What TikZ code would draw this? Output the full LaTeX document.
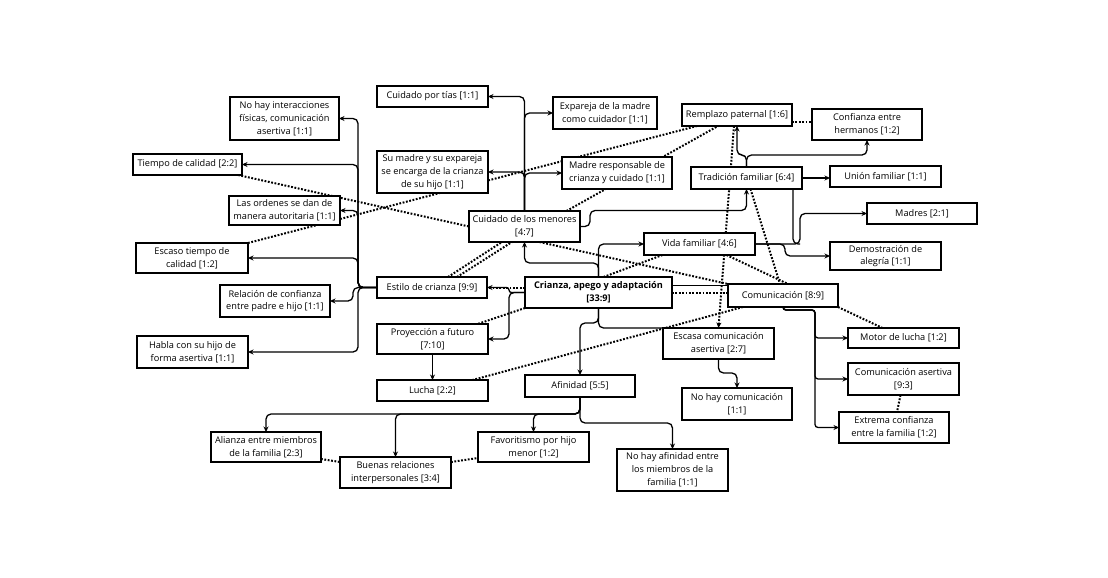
\documentclass[tikz,border=0pt]{standalone}
\usepackage{fontspec}
\newfontfamily\osans{Open Sans}
\usetikzlibrary{arrows.meta,backgrounds}
\tikzset{
  box/.style={draw, line width=1.3pt, fill=white, inner sep=0pt, outer sep=0pt,
    align=center, font=\osans\fontsize{9.2}{12.8}\selectfont},
  arr/.style={line width=1.3pt, rounded corners=5pt, -{Stealth[length=5.5pt,width=5pt]}},
  ln/.style={line width=1.3pt, rounded corners=5pt},
  dot/.style={line width=2pt, dash pattern=on 1.8pt off 1.6pt},
  dotarr/.style={dot, -{Stealth[length=5.5pt,width=5pt]}}
}
\begin{document}
\begin{tikzpicture}[x=1pt,y=-1pt]
\useasboundingbox (0,0) rectangle (1108,578);
% nodes
\node[box, minimum width=109, minimum height=43] (nohay) at (284.5,118.5) {No hay interacciones\\físicas, comunicación\\asertiva [1:1]};
\node[box, minimum width=109, minimum height=21] (tiempo) at (187.5,164.5) {Tiempo de calidad [2:2]};
\node[box, minimum width=111, minimum height=29] (ordenes) at (284.5,210.5) {Las ordenes se dan de\\manera autoritaria [1:1]};
\node[box, minimum width=112, minimum height=30] (escaso) at (192,258) {Escaso tiempo de\\calidad [1:2]};
\node[box, minimum width=110, minimum height=32] (relacion) at (275,301) {Relación de confianza\\entre padre e hijo [1:1]};
\node[box, minimum width=111, minimum height=32] (habla) at (192.5,352) {Habla con su hijo de\\forma asertiva [1:1]};
\node[box, minimum width=111, minimum height=21] (tias) at (432.5,96.5) {Cuidado por tías [1:1]};
\node[box, minimum width=111, minimum height=42] (sumadre) at (432.5,172) {Su madre y su expareja\\se encarga de la crianza\\de su hijo [1:1]};
\node[box, minimum width=111, minimum height=31] (cuidado) at (524.5,226.5) {Cuidado de los menores\\{}[4:7]};
\node[box, minimum width=110, minimum height=21] (estilo) at (432,287.5) {Estilo de crianza [9:9]};
\node[box, minimum width=111, minimum height=30] (proy) at (432.5,339) {Proyección a futuro\\{}[7:10]};
\node[box, minimum width=111, minimum height=21] (lucha) at (432.5,390.5) {Lucha [2:2]};
\node[box, minimum width=147, minimum height=31, font=\osans\bfseries\fontsize{9.2}{12.8}\selectfont] (crianza) at (598.5,292.5) {Crianza, apego y adaptación\\{}[33:9]};
\node[box, minimum width=104, minimum height=32] (expareja) at (605,113) {Expareja de la madre\\como cuidador [1:1]};
\node[box, minimum width=110, minimum height=32] (madre) at (617,173) {Madre responsable de\\crianza y cuidado [1:1]};
\node[box, minimum width=110, minimum height=22] (remplazo) at (737,115) {Remplazo paternal [1:6]};
\node[box, minimum width=110, minimum height=31] (confher) at (867,124.5) {Confianza entre\\hermanos [1:2]};
\node[box, minimum width=111, minimum height=22] (tradicion) at (746.5,178) {Tradición familiar [6:4]};
\node[box, minimum width=111, minimum height=21] (union) at (885.5,176.5) {Unión familiar [1:1]};
\node[box, minimum width=110, minimum height=21] (madres) at (922,213.5) {Madres [2:1]};
\node[box, minimum width=111, minimum height=22] (vida) at (699.5,244) {Vida familiar [4:6]};
\node[box, minimum width=111, minimum height=28] (demos) at (885.5,256) {Demostración de\\alegría [1:1]};
\node[box, minimum width=110, minimum height=23] (comun) at (783,295.5) {Comunicación [8:9]};
\node[box, minimum width=111, minimum height=31] (escasa) at (718.5,343.5) {Escasa comunicación\\asertiva [2:7]};
\node[box, minimum width=111, minimum height=20] (motor) at (903.5,338) {Motor de lucha [1:2]};
\node[box, minimum width=111, minimum height=32] (comasert) at (903.5,379) {Comunicación asertiva\\{}[9:3]};
\node[box, minimum width=110, minimum height=31] (extrema) at (894,427.5) {Extrema confianza\\entre la familia [1:2]};
\node[box, minimum width=110, minimum height=32] (nohaycom) at (737,404) {No hay comunicación\\{}[1:1]};
\node[box, minimum width=110, minimum height=22] (afinidad) at (580,386) {Afinidad [5:5]};
\node[box, minimum width=111, minimum height=42] (noafin) at (672.5,470) {No hay afinidad entre\\los miembros de la\\familia [1:1]};
\node[box, minimum width=111, minimum height=30] (favor) at (533.5,447) {Favoritismo por hijo\\menor [1:2]};
\node[box, minimum width=110, minimum height=30] (alianza) at (266,447) {Alianza entre miembros\\de la familia [2:3]};
\node[box, minimum width=111, minimum height=31] (buenas) at (395.5,472.5) {Buenas relaciones\\interpersonales [3:4]};

\begin{pgfonlayer}{background}
\fill[white] (0,0) rectangle (1108,578);
% Estilo de crianza tree
\draw[arr] (estilo.west) -- ++(-19,0) |- (nohay.east);
\draw[arr] (estilo.west) -- ++(-19,0) |- (tiempo.east);
\draw[arr] (estilo.west) -- ++(-19,0) |- (ordenes.east);
\draw[arr] (estilo.west) -- ++(-19,0) |- (escaso.east);
\draw[arr] (estilo.west) -- ++(-24,0) |- (relacion.east);
\draw[arr] (estilo.west) -- ++(-19,0) |- (habla.east);
% Cuidado tree
\draw[arr] (cuidado.north) |- (tias.east);
\draw[arr] (cuidado.north) |- (expareja.west);
\draw[arr] (cuidado.north) |- (sumadre.east);
\draw[arr] (cuidado.north) |- (madre.west);
\draw[arr] (cuidado.east) -- ++(10,0) -- ++(0,-16) -| (tradicion.south);
% Tradicion
\draw[arr] (tradicion.north) -- ++(0,-12) -| (remplazo.south);
\draw[arr] (tradicion.north) -- ++(0,-12) -| (confher.south);
\draw[arr] (tradicion.east) -- (tradicion.east -| union.west);
% Vida
\draw[arr] (vida.east) -- ++(45,0) |- (madres.west);
\draw[arr] (vida.east) -- ++(30,0) |- (demos.west);
\draw[ln] ([xshift=-9pt]tradicion.south east) |- ([xshift=45pt]vida.east);
% Crianza
\draw[arr] (crianza.north) -- ++(0,-14) -| (cuidado.south);
\draw[arr] (crianza.north) |- (vida.west);
\draw[arr, rounded corners=2.5pt] (crianza.west) -- ++(-16,0) |- (estilo.east);
\draw[arr] (crianza.west) -- ++(-16,0) |- (proy.east);
\draw[arr] (proy.south) -- (lucha.north);
\draw[arr] (crianza.south) -- ++(0,15) -| (afinidad.north);
\draw[ln] (crianza.south) |- (escasa.north west);
\draw[ln] ([yshift=7pt]crianza.east) -- ([yshift=7pt]crianza.east -| comun.west);
\draw[arr] (escasa.south) -- ++(0,14) -| (nohaycom.north);
% Comunicacion tree
\draw[arr, rounded corners=3pt] (comun.south) |- ++(32,3) |- (motor.west);
\draw[arr, rounded corners=3pt] (comun.south) |- ++(32,3) |- (comasert.west);
\draw[arr, rounded corners=3pt] (comun.south) |- ++(32,3) |- (extrema.west);
% Afinidad tree
\draw[arr] (afinidad.south) -- ++(0,17) -| (alianza.north);
\draw[arr] (afinidad.south) -- ++(0,17) -| (buenas.north);
\draw[arr] (afinidad.south) -- ++(0,17) -| (favor.north);
\draw[arr] (afinidad.south) -- ++(0,26) -| (noafin.north);
% dotted relations
\draw[dot] ([xshift=-4pt]tiempo.south east) -- (cuidado.west);
\draw[dot] (escaso.north east) -- ([xshift=-40pt]remplazo.south);
\draw[dot] ([xshift=42pt]cuidado.north) -- ([xshift=-19pt]remplazo.south);
\draw[dot] ([xshift=16pt]estilo.north) -- ([xshift=-22.5pt]cuidado.south);
\draw[dot] ([xshift=25pt]estilo.north) -- ([xshift=-12.5pt]cuidado.south);
\draw[dot] ([xshift=15pt]cuidado.south) -- (comun.north west);
\draw[dot] ([yshift=4.5pt]crianza.west) -- ([yshift=4.5pt]crianza.west -| estilo.east);
\draw[dot] (crianza.south west) -- ([xshift=45pt]proy.north);
\draw[dot] ([xshift=5pt]crianza.north) -- ([xshift=-37pt]vida.south);
\draw[dot] (crianza.east) -- (crianza.east -| comun.west);
\draw[dotarr] ([xshift=-3pt]remplazo.south) -- (escasa.north);
\draw[dot] ([xshift=4pt]tradicion.south) -- ([xshift=-3pt]comun.north);
\draw[dot] ([xshift=27pt]vida.south) -- ([xshift=5pt]comun.north);
\draw[dot] ([xshift=-40pt]comun.south) -- ([xshift=40pt]lucha.north);
\draw[dot] (comun.south east) -- ([xshift=-21pt]motor.north);
\draw[dot] ([xshift=-3pt]comasert.south) -- ([xshift=3pt]extrema.north);
\draw[dot] ([yshift=-7pt]remplazo.east) -- ([yshift=-7pt]remplazo.east -| confher.west);
\draw[dot] ([yshift=3pt]alianza.south east) -- ([yshift=-5pt]buenas.north west);
\draw[dot] ([yshift=-5pt]buenas.north east) -- ([yshift=4pt]favor.south west);
\end{pgfonlayer}
\end{tikzpicture}
\end{document}
